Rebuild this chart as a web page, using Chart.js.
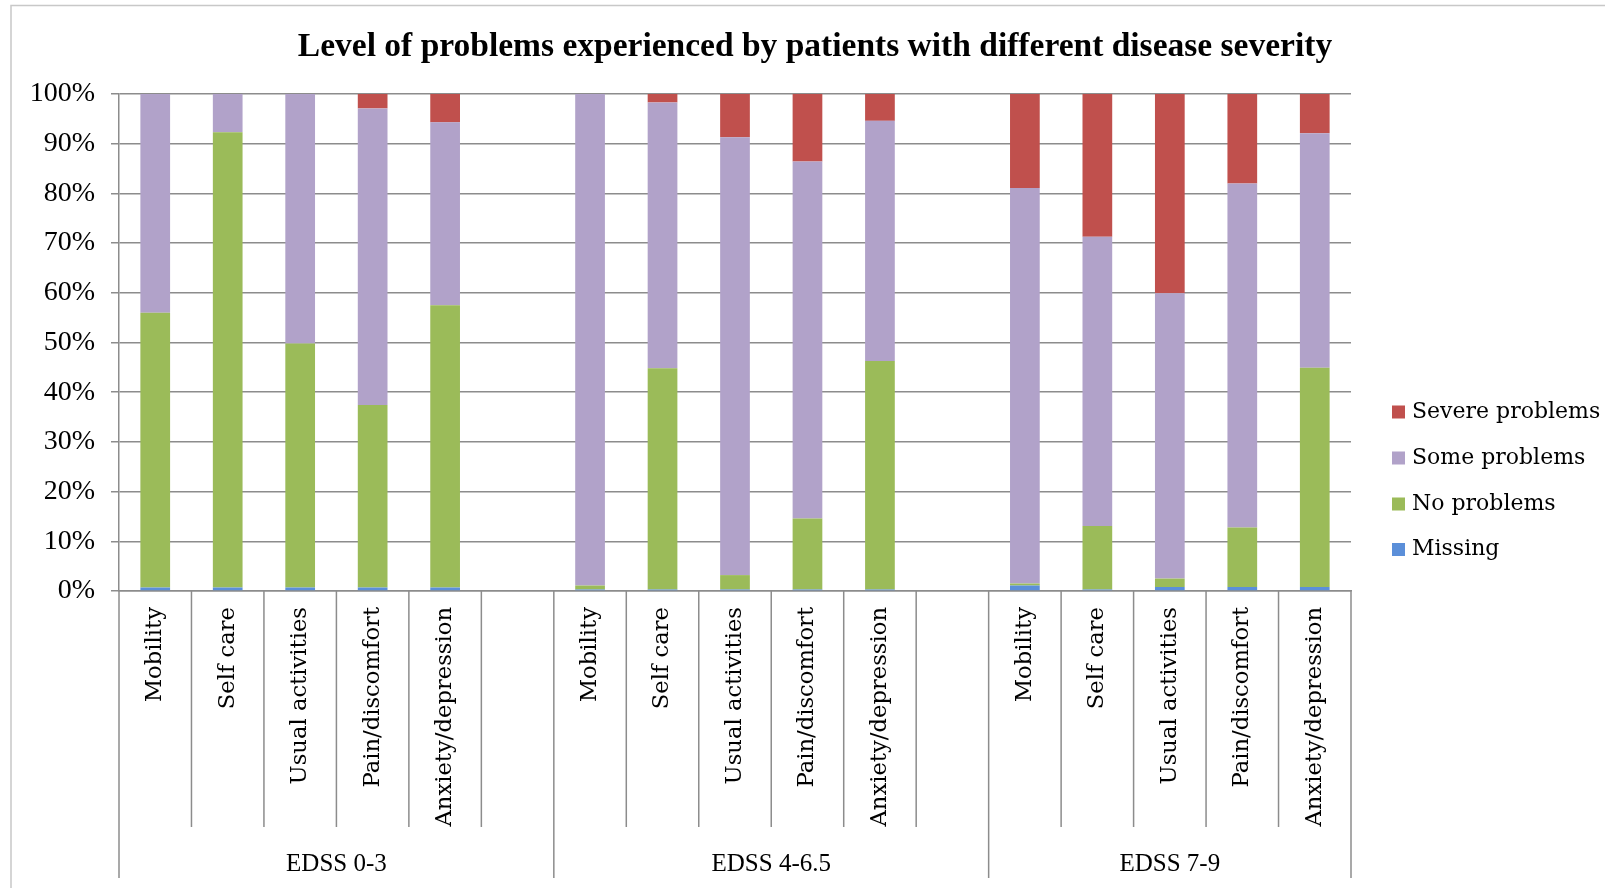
<!DOCTYPE html>
<html>
<head>
<meta charset="utf-8">
<script src="https://cdn.jsdelivr.net/npm/chart.js@4/dist/chart.umd.min.js"></script>
<style>
  html, body { margin: 0; padding: 0; background: #fff; }
  #wrap { width: 1605px; height: 888px; position: relative; }
</style>
</head>
<body>
<div id="wrap"><canvas id="chart" width="1605" height="888"></canvas></div>
<script>
// categories (empty strings are the gaps between severity groups)
const categories = ['Mobility', 'Self care', 'Usual activities', 'Pain/discomfort', 'Anxiety/depression', '',
                    'Mobility', 'Self care', 'Usual activities', 'Pain/discomfort', 'Anxiety/depression', '',
                    'Mobility', 'Self care', 'Usual activities', 'Pain/discomfort', 'Anxiety/depression'];
const groups = ['EDSS 0-3', 'EDSS 4-6.5', 'EDSS 7-9'];
const groupStart = [0, 6, 12];
const groupEnd = [6, 12, 17];

// percentages
const missing  = [0.7, 0.7, 0.7, 0.7, 0.7, null, 0.3, 0.3, 0.3, 0.3, 0.3, null, 1.1, 0.3, 0.8, 0.8, 0.8];
const noProb   = [55.3, 91.6, 49.1, 36.7, 56.8, null, 0.8, 44.5, 2.9, 14.3, 46.0, null, 0.4, 12.8, 1.7, 12.0, 44.1];
const someProb = [44.0, 7.7, 50.2, 59.7, 36.8, null, 98.9, 53.5, 88.1, 71.8, 48.3, null, 79.6, 58.2, 57.4, 69.2, 47.2];
const severe   = [0, 0, 0, 2.9, 5.7, null, 0, 1.7, 8.7, 13.6, 5.4, null, 18.9, 28.7, 40.1, 18.0, 7.9];
const yTicks = [0, 10, 20, 30, 40, 50, 60, 70, 80, 90, 100];

const titleText = 'Level of problems experienced by patients with different disease severity';
const gridColor = '#8c8c8c';

// title, legend, border, category separators and group labels
const extras = {
    id: 'extras',
    afterDraw(chart) {
        const c = chart.ctx;
        const x = chart.scales.x;
        const area = chart.chartArea;
        c.save();

        // outer frame
        c.strokeStyle = '#c8c8c8';
        c.lineWidth = 1.5;
        c.beginPath();
        c.moveTo(11, 888);
        c.lineTo(11, 5.5);
        c.lineTo(1605, 5.5);
        c.stroke();

        // title
        c.fillStyle = '#000';
        c.font = 'bold 33.5px "Liberation Serif"';
        c.textAlign = 'center';
        c.textBaseline = 'middle';
        c.fillText(titleText, 815, 47);

        // separators below the axis
        const half = (x.getPixelForValue(1) - x.getPixelForValue(0)) / 2;
        c.strokeStyle = gridColor;
        c.lineWidth = 1.5;
        for (let i = 0; i <= categories.length; i++) {
            const px = x.getPixelForValue(i) - half;
            const isGroup = groupStart.includes(i) || i === categories.length;
            c.beginPath();
            c.moveTo(px, area.bottom);
            c.lineTo(px, isGroup ? 878 : 827);
            c.stroke();
        }

        // group labels
        c.font = '25px "Liberation Serif"';
        c.fillStyle = '#000';
        groups.forEach((g, i) => {
            const a = x.getPixelForValue(groupStart[i]) - half;
            const b = x.getPixelForValue(groupEnd[i]) - half;
            c.fillText(g, (a + b) / 2, 864);
        });

        // legend (reverse dataset order)
        c.font = '22px "DejaVu Serif"';
        c.textAlign = 'left';
        const rows = [412, 458, 504, 549.5];
        const ds = chart.data.datasets.slice().reverse();
        ds.forEach((d, i) => {
            c.fillStyle = d.backgroundColor;
            c.fillRect(1392, rows[i] - 6.5, 13, 13);
            c.fillStyle = '#000';
            c.fillText(d.label, 1412, rows[i]);
        });
        c.restore();
    }
};

const ctx = document.getElementById('chart').getContext('2d');
new Chart(ctx, {
    type: 'bar',
    data: {
        labels: categories,
        datasets: [
            { label: 'Missing', data: missing, backgroundColor: '#5b8fd9' },
            { label: 'No problems', data: noProb, backgroundColor: '#9bbb59' },
            { label: 'Some problems', data: someProb, backgroundColor: '#b1a2c9' },
            { label: 'Severe problems', data: severe, backgroundColor: '#c0504d' }
        ]
    },
    options: {
        responsive: false,
        animation: false,
        layout: { padding: { top: 94, right: 254, left: 0, bottom: 0 } },
        datasets: { bar: { barPercentage: 0.41, categoryPercentage: 1 } },
        scales: {
            x: {
                stacked: true,
                grid: { display: false },
                border: { display: true, color: gridColor, width: 1.5 },
                ticks: {
                    autoSkip: false,
                    maxRotation: 90,
                    minRotation: 90,
                    padding: 8,
                    color: '#000',
                    font: { family: 'DejaVu Serif', size: 22.7 }
                },
                afterFit(scale) { scale.height = 297; }
            },
            y: {
                stacked: true,
                min: 0,
                max: 100,
                afterBuildTicks(scale) { scale.ticks = yTicks.map(v => ({ value: v })); },
                grid: { color: gridColor, lineWidth: 1.5, tickLength: 8 },
                border: { display: true, color: gridColor, width: 1.5 },
                ticks: {
                    padding: 16,
                    color: '#000',
                    font: { family: 'Liberation Serif', size: 28 },
                    callback: v => v + '%'
                },
                afterFit(scale) { scale.width = 119; }
            }
        },
        plugins: {
            legend: { display: false },
            title: { display: false },
            tooltip: { enabled: false }
        }
    },
    plugins: [extras]
});
</script>
</body>
</html>
